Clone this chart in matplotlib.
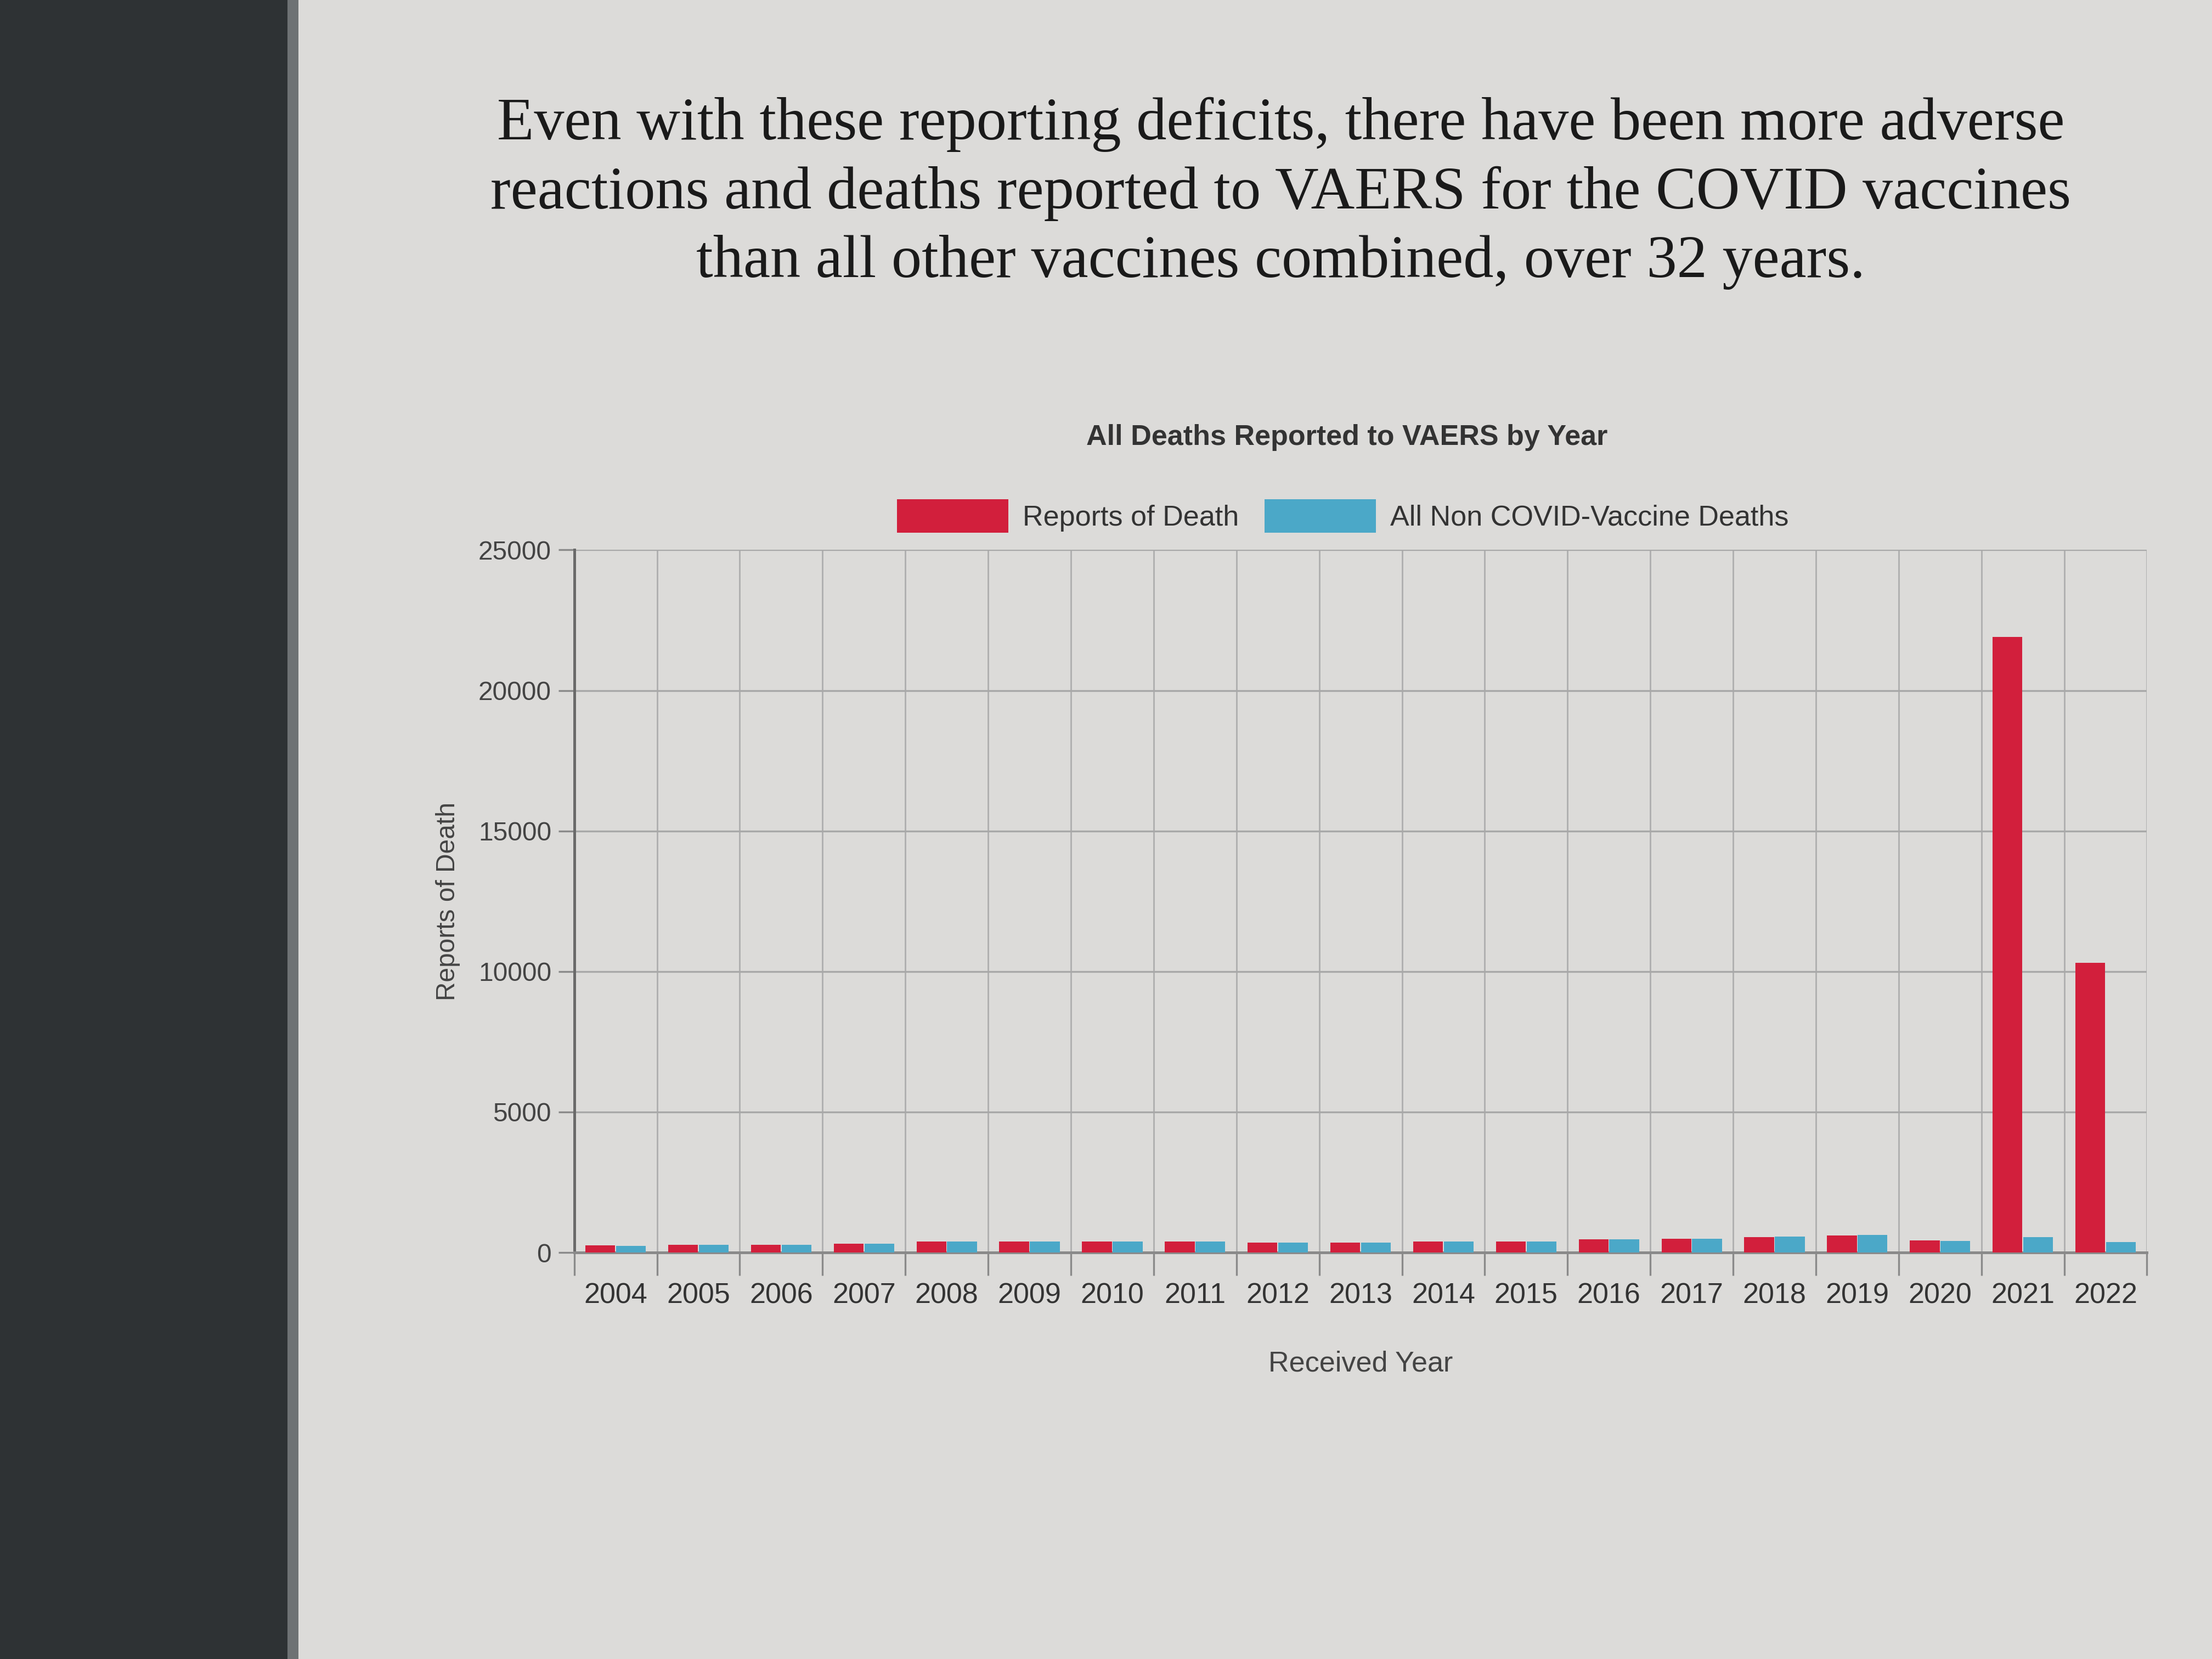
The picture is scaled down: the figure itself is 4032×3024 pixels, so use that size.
import matplotlib
matplotlib.use("Agg")
import matplotlib.pyplot as plt
from matplotlib.patches import Rectangle
from matplotlib.ticker import FixedLocator
import numpy as np

# ---- data ----
years = ["2004", "2005", "2006", "2007", "2008", "2009", "2010", "2011", "2012",
         "2013", "2014", "2015", "2016", "2017", "2018", "2019", "2020", "2021", "2022"]
reports_of_death = [250, 270, 275, 320, 385, 385, 395, 390, 360, 355, 390, 385,
                    465, 485, 550, 610, 440, 21900, 10300]
non_covid_deaths = [240, 275, 275, 320, 385, 385, 395, 390, 360, 355, 390, 385,
                    465, 485, 565, 625, 420, 540, 380]
y_ticks = [0, 5000, 10000, 15000, 20000, 25000]

heading = ("Even with these reporting deficits, there have been more adverse\n"
           "reactions and deaths reported to VAERS for the COVID vaccines\n"
           "than all other vaccines combined, over 32 years.")
chart_title = "All Deaths Reported to VAERS by Year"
series_names = ["Reports of Death", "All Non COVID-Vaccine Deaths"]
x_label = "Received Year"
y_label = "Reports of Death"

RED = "#d21f3c"
BLUE = "#4ba8c8"
PAPER = "#dcdbd9"

plt.rcParams['font.family'] = ['Liberation Sans', 'DejaVu Sans']

fig = plt.figure(figsize=(13.44, 10.08), dpi=300)
fig.patch.set_facecolor(PAPER)

# dark book binding strip on the left of the photo
fig.patches.append(Rectangle((0, 0), 0.13, 1, transform=fig.transFigure,
                             facecolor="#2e3234", edgecolor="none", zorder=0))
fig.patches.append(Rectangle((0.13, 0), 0.005, 1, transform=fig.transFigure,
                             facecolor="#6e7274", edgecolor="none", zorder=0))

# heading text from the book page
fig.text(0.579, 0.8835, heading, ha="center", va="center", multialignment="center",
         fontsize=26.5, family=["Liberation Serif", "DejaVu Serif"], color="#1a1a1a",
         linespacing=1.33)

ax = fig.add_axes([0.2596, 0.245, 0.711, 0.4235])
ax.set_facecolor(PAPER)

x = np.arange(len(years))
w = 0.36
b1 = ax.bar(x - 0.185, reports_of_death, width=w, color=RED, label=series_names[0], zorder=3)
b2 = ax.bar(x + 0.185, non_covid_deaths, width=w, color=BLUE, label=series_names[1], zorder=3)

ax.set_xlim(-0.5, len(years) - 0.5)
ax.set_ylim(0, 25000)

ax.set_yticks(y_ticks)
ax.set_yticklabels([str(v) for v in y_ticks])
ax.set_xticks(x)
ax.set_xticklabels(years)
ax.xaxis.set_minor_locator(FixedLocator(np.arange(-0.5, len(years), 1.0)))

ax.tick_params(axis="x", which="major", length=0, pad=13, labelsize=12.5, labelcolor="#333333")
ax.tick_params(axis="x", which="minor", length=10, width=0.8, color="#8a8a8a")
ax.tick_params(axis="y", which="major", length=7, width=0.8, color="#8a8a8a",
               pad=3, labelsize=11.5, labelcolor="#444444")

ax.grid(axis="y", which="major", color="#a8a8a8", linewidth=0.8, zorder=0)
ax.grid(axis="x", which="minor", color="#b0b0b0", linewidth=0.7, zorder=0)
ax.set_axisbelow(True)

for s in ["top", "right"]:
    ax.spines[s].set_visible(False)
ax.spines["left"].set_color("#6a6a6a")
ax.spines["left"].set_linewidth(1.2)
ax.spines["bottom"].set_color("#8a8a8a")
ax.spines["bottom"].set_linewidth(1.2)

ax.set_xlabel(x_label, fontsize=12.5, color="#444444", labelpad=18)
ax.set_ylabel(y_label, fontsize=11.5, color="#444444", labelpad=8)

fig.text(0.609, 0.7364, chart_title, ha="center", va="center",
         fontsize=12.5, fontweight="bold", color="#333333")

fig.legend(handles=[b1, b2], labels=series_names, loc="center",
           bbox_to_anchor=(0.607, 0.689), ncol=2, frameon=False,
           fontsize=12.5, handlelength=3.9, handleheight=1.4, handletextpad=0.5,
           columnspacing=0.9, labelcolor="#333333")

fig.savefig("out.png", dpi=300, facecolor=fig.get_facecolor())
